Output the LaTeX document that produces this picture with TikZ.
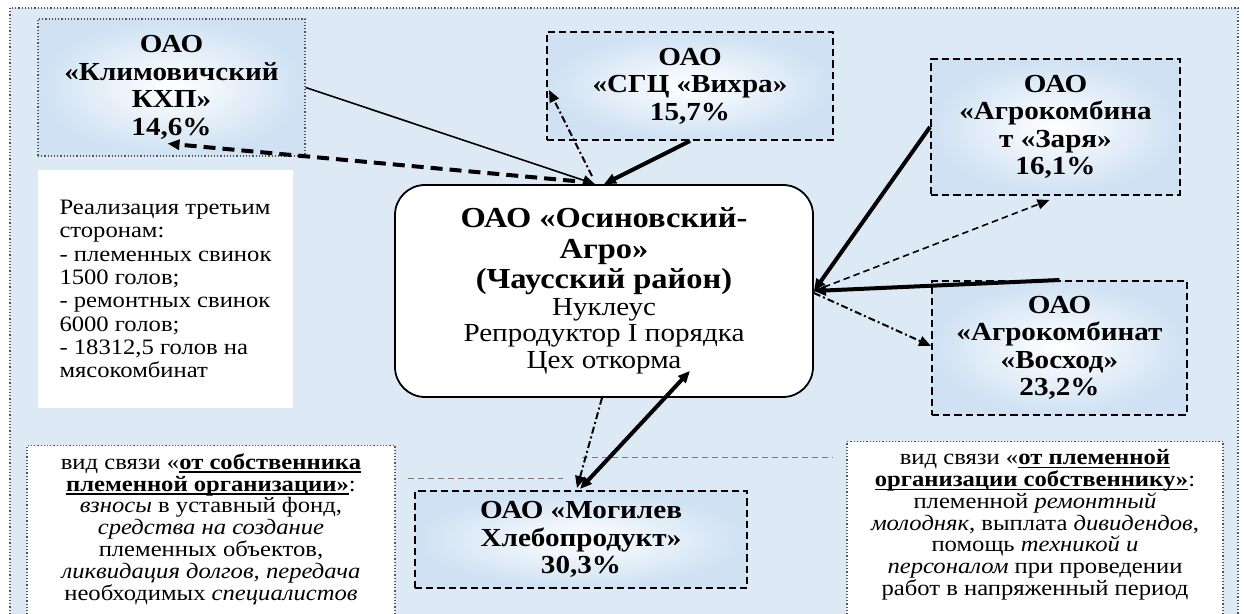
\documentclass[tikz,border=0pt]{standalone}
\usepackage{fontspec}
\setmainfont{Liberation Serif}[FakeStretch=1.12]
\usetikzlibrary{arrows.meta}
\definecolor{bg}{HTML}{DDEAF6}
\definecolor{edge}{HTML}{CFE1F3}
\definecolor{frame}{HTML}{555555}
\definecolor{faint}{HTML}{7A7A7A}
\tikzset{
  firm/.style={draw, shading=radial, inner color=white, outer color=edge,
    align=center, inner sep=0pt, font=\fontsize{13}{13.75}\selectfont\bfseries},
  dotfirm/.style={firm, draw=frame, densely dotted, line width=0.6pt},
  dashfirm/.style={firm, line width=1pt, dash pattern=on 3.6pt off 2pt},
  note/.style={draw=frame, densely dotted, line width=0.6pt, fill=white, align=center,
    anchor=north, inner xsep=4pt, inner ysep=4pt, font=\fontsize{11}{10.9}\selectfont},
  tip/.style={-{Triangle[length=6pt,width=5pt]}},
  thinlink/.style={tip, line width=0.8pt},
  boldlink/.style={tip, line width=2pt},
  boldback/.style={boldlink, dash pattern=on 6pt off 3.5pt},
  lightback/.style={thinlink, dash pattern=on 3.3pt off 2pt},
  dotdash/.style={thinlink, line width=1pt, dash pattern=on 3.5pt off 1.5pt on 1pt off 1.5pt}
}
\newcommand{\linkhead}[1]{\setbox0\hbox{\textbf{#1}}%
  \rlap{\rule[-1.8pt]{\wd0}{0.8pt}}\box0}

\begin{document}
\begin{tikzpicture}[x=0.5pt,y=-0.5pt]
  \useasboundingbox (0,0) rectangle (1244,614);
  \clip (0,0) rectangle (1244,614);
  \fill[white] (0,0) rectangle (1244,614);
  \draw[frame, densely dotted, line width=0.6pt, fill=bg] (10,8) rectangle (1238,660);

  \node[dotfirm, minimum width=133.5pt, minimum height=68.5pt] (klim) at (171.5,87.5)
    {ОАО\\«Климовичский\\КХП»\\14,6\%};
  \node[dashfirm, minimum width=143pt, minimum height=54pt] (sgc) at (690,86)
    {ОАО\\«СГЦ «Вихра»\\15,7\%};
  \node[dashfirm, minimum width=124.5pt, minimum height=68pt] (zarya) at (1055.5,127)
    {ОАО\\«Агрокомбина\\т «Заря»\\16,1\%};
  \node[dashfirm, minimum width=127.5pt, minimum height=67pt] (voskhod) at (1059.5,348)
    {ОАО\\«Агрокомбинат\\«Восход»\\23,2\%};
  \node[dashfirm, minimum width=166pt, minimum height=48.5pt] (mogilev) at (581,539.5)
    {ОАО «Могилев\\Хлебопродукт»\\30,3\%};

  \node[draw, line width=0.9pt, fill=white, rounded corners=15pt, align=center,
    minimum width=209pt, minimum height=106pt, font=\fontsize{13}{13.25}\selectfont]
    (centre) at (604,291)
    {{\fontsize{14.5}{15}\selectfont\bfseries ОАО «Осиновский-}\\[2pt]
     {\fontsize{14.5}{15}\selectfont\bfseries Агро»}\\[2pt]
     {\fontsize{14.5}{15}\selectfont\bfseries (Чаусский район)}\\
     Нуклеус\\Репродуктор I порядка\\Цех откорма};

  \node[fill=white, align=left, minimum width=127.5pt, minimum height=119pt,
    font=\fontsize{11}{11.65}\selectfont] (sales) at (165.5,289)
    {Реализация третьим\\сторонам:\\- племенных свинок\\1500 голов;\\
     - ремонтных свинок\\6000 голов;\\- 18312,5 голов на\\мясокомбинат};

  \node[note, minimum width=184pt] (owner) at (211,445)
    {вид связи «\linkhead{от собственника}\\
     \linkhead{племенной организации»}:\\
     \textit{взносы} в уставный фонд,\\
     \textit{средства на создание}\\
     племенных объектов,\\
     \textit{ликвидация долгов, передача}\\
     необходимых \textit{специалистов}\\[8pt] \strut};
  \node[note, minimum width=188pt] (breeder) at (1035,441)
    {вид связи «\linkhead{от племенной}\\
     \linkhead{организации собственнику»}:\\
     племенной \textit{ремонтный}\\
     \textit{молодняк}, выплата \textit{дивидендов},\\
     помощь \textit{техникой и}\\
     \textit{персоналом} при проведении\\
     работ в напряженный период\\[8pt] \strut};

  \draw[faint, densely dashed, line width=0.4pt] (408,478) -- (563,478);
  \draw[faint, densely dashed, line width=0.4pt] (582,457) -- (833,457);

  \draw[thinlink] (klim.east) -- ([xshift=-4.5pt]centre.north);
  \draw[boldback] ([xshift=-14.5pt,yshift=1.5pt]centre.north) -- ([xshift=-2pt,yshift=6.5pt]klim.south);
  \draw[dotdash] ([xshift=-6pt,yshift=4pt]centre.north) -- ([xshift=1.5pt,yshift=-2pt]sgc.west);
  \draw[boldlink] (sgc.south) -- (centre.north);
  \draw[boldlink] (zarya.west) -- (centre.east);
  \draw[lightback] (centre.east) -- ([xshift=-3pt,yshift=-2pt]zarya.south);
  \draw[boldlink] (voskhod.north) -- (centre.east);
  \draw[dotdash] ([yshift=-1pt]centre.east) -- ([yshift=1pt]voskhod.west);
  \draw[boldlink, {Triangle[length=6pt,width=5pt]}-{Triangle[length=6pt,width=5pt]}]
    ([xshift=-0.5pt,yshift=0.5pt]mogilev.north) -- ([xshift=43pt,yshift=13.5pt]centre.south);
  \draw[dotdash] ([xshift=-1pt]centre.south) -- ([xshift=-2pt,yshift=1pt]mogilev.north);
\end{tikzpicture}
\end{document}
